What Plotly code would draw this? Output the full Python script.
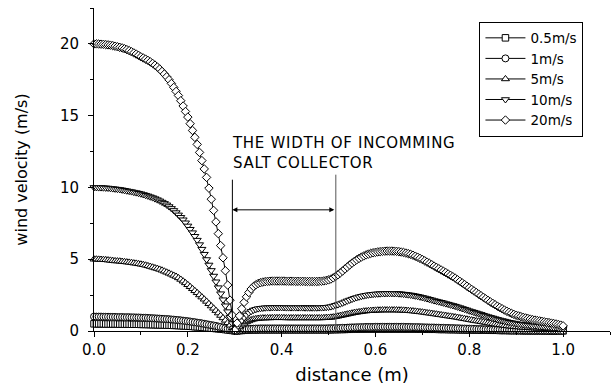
import plotly.graph_objects as go

# Sampling positions along the line (m), 0.005 m apart
distance = [round(0.005 * i, 3) for i in range(201)]

# Wind velocity (m/s) for each inlet speed, one value per sampling position
v_0_5 = [
    0.50, 0.50, 0.50, 0.50, 0.50, 0.49, 0.49, 0.49, 0.49, 0.49,
    0.49, 0.48, 0.48, 0.48, 0.48, 0.48, 0.47, 0.47, 0.47, 0.47,
    0.46, 0.46, 0.46, 0.45, 0.45, 0.44, 0.44, 0.43, 0.43, 0.42,
    0.42, 0.41, 0.41, 0.40, 0.39, 0.39, 0.38, 0.37, 0.36, 0.35,
    0.34, 0.33, 0.32, 0.30, 0.29, 0.28, 0.26, 0.25, 0.23, 0.22,
    0.20, 0.19, 0.17, 0.16, 0.14, 0.12, 0.10, 0.08, 0.06, 0.04,
    0.01, 0.01, 0.03, 0.04, 0.05, 0.06, 0.07, 0.08, 0.08, 0.08,
    0.09, 0.09, 0.09, 0.09, 0.09, 0.09, 0.09, 0.09, 0.09, 0.09,
    0.09, 0.09, 0.09, 0.09, 0.09, 0.09, 0.09, 0.09, 0.09, 0.09,
    0.09, 0.09, 0.09, 0.09, 0.09, 0.09, 0.09, 0.09, 0.09, 0.09,
    0.09, 0.09, 0.10, 0.10, 0.10, 0.11, 0.11, 0.11, 0.12, 0.12,
    0.12, 0.13, 0.13, 0.13, 0.13, 0.14, 0.14, 0.14, 0.14, 0.14,
    0.14, 0.14, 0.14, 0.14, 0.14, 0.14, 0.14, 0.14, 0.14, 0.14,
    0.14, 0.14, 0.14, 0.14, 0.14, 0.14, 0.14, 0.14, 0.13, 0.13,
    0.13, 0.13, 0.12, 0.12, 0.12, 0.12, 0.12, 0.11, 0.11, 0.11,
    0.11, 0.10, 0.10, 0.10, 0.10, 0.09, 0.09, 0.09, 0.08, 0.08,
    0.08, 0.08, 0.07, 0.07, 0.07, 0.06, 0.06, 0.06, 0.06, 0.05,
    0.05, 0.05, 0.05, 0.04, 0.04, 0.04, 0.04, 0.03, 0.03, 0.03,
    0.03, 0.03, 0.03, 0.02, 0.02, 0.02, 0.02, 0.02, 0.02, 0.02,
    0.02, 0.02, 0.02, 0.02, 0.01, 0.01, 0.01, 0.01, 0.01, 0.01,
    0.01,
]

v_1 = [
    1.00, 1.00, 1.00, 1.00, 0.99, 0.99, 0.99, 0.98, 0.98, 0.98,
    0.97, 0.97, 0.97, 0.96, 0.96, 0.96, 0.95, 0.95, 0.94, 0.94,
    0.93, 0.92, 0.92, 0.91, 0.90, 0.89, 0.88, 0.87, 0.86, 0.85,
    0.84, 0.83, 0.82, 0.80, 0.79, 0.77, 0.76, 0.74, 0.72, 0.70,
    0.68, 0.66, 0.63, 0.61, 0.58, 0.56, 0.53, 0.50, 0.47, 0.44,
    0.41, 0.38, 0.35, 0.31, 0.28, 0.24, 0.20, 0.16, 0.12, 0.07,
    0.02, 0.03, 0.05, 0.08, 0.10, 0.12, 0.14, 0.15, 0.16, 0.17,
    0.17, 0.18, 0.18, 0.18, 0.18, 0.18, 0.18, 0.18, 0.18, 0.18,
    0.18, 0.18, 0.18, 0.18, 0.18, 0.18, 0.18, 0.18, 0.18, 0.18,
    0.18, 0.18, 0.18, 0.18, 0.18, 0.18, 0.18, 0.18, 0.18, 0.18,
    0.19, 0.19, 0.19, 0.20, 0.20, 0.21, 0.22, 0.22, 0.23, 0.24,
    0.25, 0.25, 0.26, 0.26, 0.27, 0.27, 0.28, 0.28, 0.28, 0.28,
    0.29, 0.29, 0.29, 0.29, 0.29, 0.29, 0.29, 0.29, 0.29, 0.29,
    0.29, 0.29, 0.29, 0.28, 0.28, 0.28, 0.27, 0.27, 0.27, 0.26,
    0.26, 0.25, 0.25, 0.24, 0.24, 0.24, 0.23, 0.23, 0.22, 0.22,
    0.21, 0.21, 0.20, 0.20, 0.19, 0.19, 0.18, 0.17, 0.17, 0.16,
    0.16, 0.15, 0.15, 0.14, 0.13, 0.13, 0.12, 0.12, 0.11, 0.11,
    0.10, 0.10, 0.09, 0.09, 0.08, 0.08, 0.07, 0.07, 0.06, 0.06,
    0.06, 0.05, 0.05, 0.05, 0.05, 0.05, 0.04, 0.04, 0.04, 0.04,
    0.04, 0.03, 0.03, 0.03, 0.03, 0.03, 0.03, 0.03, 0.02, 0.02,
    0.02,
]

v_5 = [
    5.00, 5.00, 4.99, 4.98, 4.97, 4.96, 4.94, 4.92, 4.90, 4.88,
    4.87, 4.86, 4.84, 4.82, 4.80, 4.78, 4.76, 4.73, 4.71, 4.68,
    4.65, 4.62, 4.58, 4.54, 4.49, 4.44, 4.39, 4.35, 4.29, 4.23,
    4.16, 4.09, 4.02, 3.95, 3.87, 3.80, 3.70, 3.59, 3.47, 3.35,
    3.22, 3.08, 2.94, 2.80, 2.66, 2.51, 2.36, 2.21, 2.06, 1.90,
    1.74, 1.58, 1.42, 1.25, 1.08, 0.91, 0.74, 0.57, 0.40, 0.23,
    0.05, 0.14, 0.28, 0.41, 0.53, 0.63, 0.70, 0.77, 0.82, 0.85,
    0.87, 0.89, 0.90, 0.90, 0.91, 0.91, 0.92, 0.92, 0.92, 0.92,
    0.92, 0.92, 0.91, 0.91, 0.91, 0.91, 0.91, 0.91, 0.91, 0.91,
    0.91, 0.91, 0.91, 0.91, 0.91, 0.91, 0.91, 0.91, 0.92, 0.93,
    0.94, 0.95, 0.97, 1.00, 1.03, 1.07, 1.10, 1.14, 1.17, 1.21,
    1.24, 1.28, 1.30, 1.33, 1.35, 1.38, 1.39, 1.41, 1.42, 1.43,
    1.44, 1.45, 1.45, 1.46, 1.46, 1.46, 1.46, 1.46, 1.46, 1.46,
    1.45, 1.45, 1.44, 1.43, 1.42, 1.40, 1.39, 1.37, 1.35, 1.33,
    1.31, 1.29, 1.26, 1.24, 1.22, 1.19, 1.17, 1.14, 1.12, 1.09,
    1.07, 1.04, 1.02, 0.99, 0.97, 0.94, 0.91, 0.88, 0.85, 0.82,
    0.79, 0.76, 0.73, 0.70, 0.68, 0.65, 0.62, 0.59, 0.56, 0.53,
    0.51, 0.48, 0.45, 0.43, 0.41, 0.38, 0.36, 0.34, 0.32, 0.31,
    0.29, 0.28, 0.26, 0.25, 0.24, 0.23, 0.22, 0.21, 0.20, 0.19,
    0.18, 0.18, 0.17, 0.16, 0.15, 0.14, 0.14, 0.13, 0.12, 0.11,
    0.09,
]

v_10 = [
    10.00, 10.00, 9.99, 9.99, 9.98, 9.97, 9.96, 9.94, 9.92, 9.90,
    9.88, 9.86, 9.83, 9.80, 9.77, 9.74, 9.71, 9.67, 9.64, 9.60,
    9.56, 9.51, 9.46, 9.41, 9.35, 9.29, 9.22, 9.15, 9.07, 8.98,
    8.89, 8.79, 8.67, 8.54, 8.40, 8.25, 8.09, 7.92, 7.75, 7.54,
    7.32, 7.09, 6.85, 6.60, 6.33, 6.02, 5.70, 5.35, 4.98, 4.60,
    4.22, 3.83, 3.43, 3.02, 2.60, 2.18, 1.76, 1.35, 0.95, 0.52,
    0.05, 0.26, 0.49, 0.73, 0.94, 1.12, 1.26, 1.37, 1.46, 1.51,
    1.56, 1.58, 1.60, 1.62, 1.63, 1.63, 1.64, 1.64, 1.64, 1.64,
    1.64, 1.64, 1.63, 1.63, 1.63, 1.63, 1.63, 1.63, 1.63, 1.63,
    1.62, 1.62, 1.62, 1.62, 1.62, 1.62, 1.63, 1.63, 1.64, 1.65,
    1.67, 1.70, 1.74, 1.79, 1.84, 1.90, 1.96, 2.03, 2.10, 2.16,
    2.22, 2.28, 2.33, 2.38, 2.42, 2.46, 2.49, 2.52, 2.54, 2.56,
    2.58, 2.59, 2.60, 2.61, 2.61, 2.62, 2.62, 2.62, 2.61, 2.61,
    2.60, 2.59, 2.57, 2.55, 2.53, 2.51, 2.48, 2.45, 2.42, 2.38,
    2.34, 2.30, 2.26, 2.21, 2.17, 2.12, 2.08, 2.04, 2.00, 1.96,
    1.91, 1.87, 1.82, 1.78, 1.73, 1.68, 1.63, 1.57, 1.52, 1.47,
    1.41, 1.36, 1.31, 1.26, 1.21, 1.16, 1.10, 1.05, 1.00, 0.95,
    0.91, 0.86, 0.81, 0.77, 0.73, 0.69, 0.65, 0.61, 0.58, 0.55,
    0.52, 0.49, 0.47, 0.45, 0.43, 0.41, 0.39, 0.37, 0.36, 0.34,
    0.33, 0.31, 0.30, 0.29, 0.27, 0.26, 0.24, 0.23, 0.21, 0.19,
    0.17,
]

v_20 = [
    20.00, 20.00, 19.99, 19.98, 19.97, 19.95, 19.93, 19.91, 19.88, 19.84,
    19.80, 19.76, 19.72, 19.66, 19.60, 19.53, 19.45, 19.37, 19.29, 19.20,
    19.10, 19.02, 18.94, 18.85, 18.75, 18.64, 18.52, 18.39, 18.25, 18.08,
    17.90, 17.71, 17.50, 17.24, 16.97, 16.69, 16.40, 16.04, 15.67, 15.29,
    14.90, 14.44, 13.97, 13.49, 13.00, 12.44, 11.87, 11.29, 10.70, 9.95,
    9.18, 8.40, 7.60, 6.78, 5.95, 5.10, 4.20, 3.20, 2.15, 1.10,
    0.05, 0.55, 1.05, 1.55, 2.00, 2.38, 2.68, 2.92, 3.10, 3.22,
    3.31, 3.37, 3.41, 3.44, 3.46, 3.47, 3.48, 3.48, 3.48, 3.48,
    3.48, 3.48, 3.47, 3.47, 3.47, 3.47, 3.46, 3.46, 3.46, 3.46,
    3.45, 3.45, 3.45, 3.45, 3.45, 3.45, 3.46, 3.47, 3.49, 3.52,
    3.56, 3.62, 3.70, 3.80, 3.92, 4.05, 4.18, 4.32, 4.46, 4.60,
    4.73, 4.85, 4.96, 5.06, 5.15, 5.23, 5.30, 5.36, 5.41, 5.45,
    5.48, 5.51, 5.53, 5.55, 5.56, 5.57, 5.57, 5.57, 5.56, 5.55,
    5.53, 5.50, 5.47, 5.43, 5.39, 5.34, 5.28, 5.21, 5.14, 5.06,
    4.98, 4.89, 4.80, 4.71, 4.62, 4.52, 4.43, 4.34, 4.25, 4.16,
    4.07, 3.97, 3.88, 3.78, 3.68, 3.57, 3.46, 3.35, 3.24, 3.12,
    3.01, 2.90, 2.79, 2.68, 2.57, 2.46, 2.35, 2.24, 2.13, 2.03,
    1.93, 1.83, 1.73, 1.64, 1.55, 1.46, 1.38, 1.30, 1.23, 1.16,
    1.10, 1.05, 1.00, 0.95, 0.91, 0.87, 0.83, 0.79, 0.76, 0.73,
    0.70, 0.67, 0.64, 0.61, 0.58, 0.55, 0.52, 0.49, 0.45, 0.41,
    0.36,
]

series_names = ["0.5m/s", "1m/s", "5m/s", "10m/s", "20m/s"]
series_values = [v_0_5, v_1, v_5, v_10, v_20]
series_symbols = ["square", "circle", "triangle-up", "triangle-down", "diamond"]
series_sizes = [6.5, 7, 7, 7, 6.5]

# Collector edges (m) and the height of the marker lines (m/s)
collector_left = 0.295
collector_right = 0.5155
left_line_top = 10.54
right_line_top = 10.89
arrow_level = 8.44

for vals in series_values:
    if len(vals) != len(distance):
        raise ValueError("series length mismatch")

FONT = "DejaVu Sans"

fig = go.Figure()
for name, vals, sym, size in zip(series_names, series_values,
                                 series_symbols, series_sizes):
    # white-filled symbols with a black rim, so overlapping points hatch
    fig.add_trace(go.Scatter(
        x=distance, y=vals, name=name, mode="lines+markers",
        line=dict(color="black", width=1),
        marker=dict(symbol=sym, size=size, color="white",
                    line=dict(color="black", width=1)),
        cliponaxis=False,
    ))

fig.add_shape(type="line", x0=collector_left, x1=collector_left,
              y0=0, y1=left_line_top, line=dict(color="black", width=1))
fig.add_shape(type="line", x0=collector_right, x1=collector_right,
              y0=0, y1=right_line_top, line=dict(color="#555555", width=1))

fig.add_annotation(x=collector_left, y=arrow_level, ax=collector_right,
                   ay=arrow_level, axref="x", ayref="y", text="",
                   showarrow=True, arrowside="end+start", arrowhead=2,
                   arrowsize=1, arrowwidth=1, arrowcolor="black")

fig.add_annotation(
    x=0.290, y=12.42, xanchor="left", yanchor="middle", align="left",
    showarrow=False,
    text=('<span style="letter-spacing:0.7px">THE WIDTH OF INCOMMING</span>'
          '<br><span style="letter-spacing:0.7px">SALT COLLECTOR</span>'),
    font=dict(family=FONT, size=15, color="black"),
)

axis_common = dict(
    showline=True, linecolor="black", linewidth=1, mirror=False,
    ticks="outside", ticklen=5, tickwidth=1, tickcolor="black",
    showgrid=False, zeroline=False,
    tickfont=dict(family=FONT, size=15, color="black"),
)

fig.update_xaxes(
    range=[0, 1.1], tick0=0, dtick=0.2, tickformat=".1f",
    minor=dict(dtick=0.1, ticks="outside", ticklen=3, tickcolor="black"),
    title=dict(text="distance (m)", standoff=10,
               font=dict(family=FONT, size=18, color="black")),
    **axis_common,
)
fig.update_yaxes(
    range=[0, 22.5], tick0=0, dtick=5, ticklabelstandoff=6,
    minor=dict(dtick=2.5, ticks="outside", ticklen=3, tickcolor="black"),
    title=dict(text="wind velocity (m/s)", standoff=28,
               font=dict(family=FONT, size=16, color="black")),
    **axis_common,
)

fig.update_layout(
    width=615, height=386,
    margin=dict(l=94, r=5, t=8, b=55, autoexpand=False),
    paper_bgcolor="white", plot_bgcolor="white",
    font=dict(family=FONT, color="black"),
    showlegend=True,
    legend=dict(
        x=0.747, y=0.958, xanchor="left", yanchor="top",
        bgcolor="white", bordercolor="black", borderwidth=1,
        font=dict(family=FONT, size=13.5, color="black"),
        tracegroupgap=0, itemwidth=40,
    ),
)

fig.write_html("out.html")
